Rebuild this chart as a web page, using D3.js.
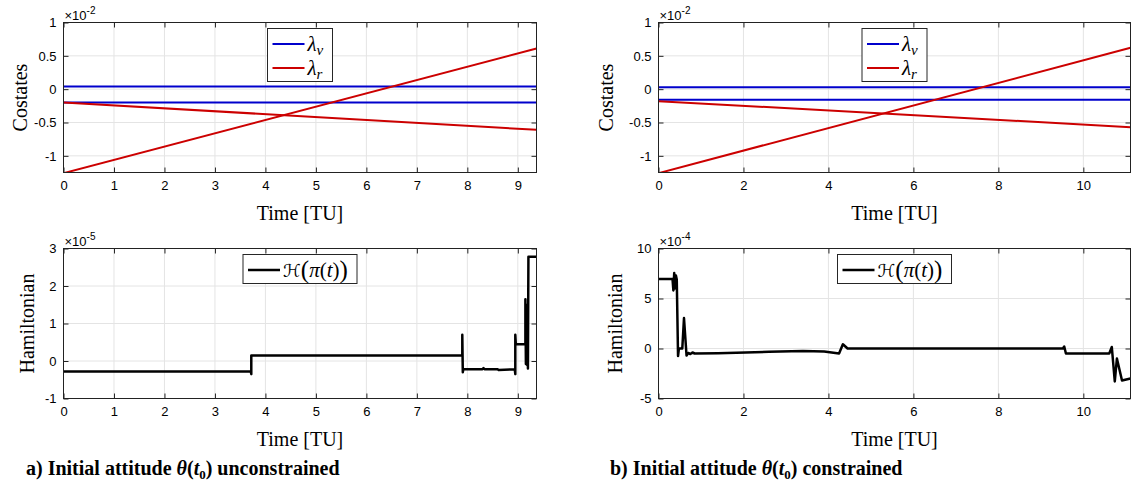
<!DOCTYPE html>
<meta charset="utf-8">
<style>
  body {
    margin: 0;
    background: #fff;
  }
  .tick text {
    font-family: "Liberation Sans", Arial, sans-serif;
    font-size: 13px;
    fill: #000;
  }
  .serif {
    font-family: "Liberation Serif", "Times New Roman", serif;
  }
</style>
<body>
  <script src="https://d3js.org/d3.v7.min.js"></script>
  <div id="chart"></div>
  <script>
    // a) attitude unconstrained: costates x1e-2, hamiltonian x1e-5
    const costTimeA = [0, 9.37];
    const lamVelA1 = [0.04, 0.04];
    const lamVelA2 = [-0.2, -0.2];
    const lamPosA1 = [-0.2, -0.61];
    const lamPosA2 = [-1.26, 0.61];

    const hamTimeA = [0, 3.71, 3.72, 3.72, 7.90, 7.90, 7.91, 7.92, 8.30, 8.32, 8.34, 8.60, 8.62, 8.94, 8.95, 8.95, 8.96,
                      9.15, 9.15, 9.16, 9.17, 9.18, 9.19, 9.20, 9.21, 9.37];
    const hamA = [-0.28, -0.28, -0.35, 0.15, 0.15, 0.70, -0.30, -0.22, -0.22, -0.19, -0.22, -0.22, -0.24, -0.22, -0.35, 0.70, 0.45,
                  0.45, 1.65, -0.08, 1.5, -0.1, 1.2, -0.2, 2.78, 2.78];

    // b) attitude constrained: costates x1e-2, hamiltonian x1e-4
    const costTimeB = [0, 11.11];
    const lamVelB1 = [0.03, 0.03];
    const lamVelB2 = [-0.16, -0.16];
    const lamPosB1 = [-0.18, -0.57];
    const lamPosB2 = [-1.26, 0.62];

    const hamTimeB = [0, 0.33, 0.35, 0.37, 0.39, 0.41, 0.43, 0.46, 0.48, 0.56, 0.60, 0.66, 0.70, 0.75, 0.80, 0.85,
                      1.4, 2.6, 3.4, 3.9, 4.25, 4.34, 4.45, 9.52, 9.55, 9.59, 10.61, 10.67, 10.74, 10.79, 10.91, 11.11];
    const hamB = [6.95, 6.95, 5.8, 7.55, 6.0, 7.3, 6.9, -0.75, 0.0, 0.0, 3.05, -0.7, -0.45, -0.55, -0.4, -0.5,
                  -0.48, -0.33, -0.24, -0.3, -0.5, 0.42, 0.0, 0.0, 0.2, -0.5, -0.5, 0.15, -3.3, -1.0, -3.2, -3.0];

    const xTicksA = [0, 1, 2, 3, 4, 5, 6, 7, 8, 9];
    const xTicksB = [0, 2, 4, 6, 8, 10];
    const costTicks = [-1, -0.5, 0, 0.5, 1];
    const hamTicksA = [-1, 0, 1, 2, 3];
    const hamTicksB = [-5, 0, 5, 10];

    const blue = "#0000cc", red = "#cc0000";

    const svg = d3.select("#chart")
      .append("svg")
      .attr("width", 1131)
      .attr("height", 481);

    let clipId = 0;

    function panel(o) {
      const w = o.w, h = o.h;
      const g = svg.append("g").attr("transform", `translate(${o.x0},${o.y0})`);
      const x = d3.scaleLinear().domain(o.xDomain).range([0, w]);
      const y = d3.scaleLinear().domain(o.yDomain).range([h, 0]);

      // grid
      g.append("g").selectAll("line").data(o.xTicks).join("line")
        .attr("x1", d => x(d)).attr("x2", d => x(d))
        .attr("y1", 0).attr("y2", h)
        .attr("stroke", "#e4e4e4");
      g.append("g").selectAll("line").data(o.yTicks).join("line")
        .attr("y1", d => y(d)).attr("y2", d => y(d))
        .attr("x1", 0).attr("x2", w)
        .attr("stroke", "#e4e4e4");

      const id = "clip" + (clipId++);
      g.append("clipPath").attr("id", id)
        .append("rect").attr("width", w).attr("height", h);

      const line = d3.line().x(d => x(d[0])).y(d => y(d[1]));
      g.append("g").attr("clip-path", `url(#${id})`)
        .selectAll("path")
        .data(o.series)
        .join("path")
        .attr("d", s => line(d3.zip(s.t, s.v)))
        .attr("fill", "none")
        .attr("stroke", s => s.color)
        .attr("stroke-width", s => s.width)
        .attr("stroke-linejoin", "round");

      // axes, ticks inside on all sides
      const fmt = d => String(d);
      g.append("g").attr("transform", `translate(0,${h})`)
        .call(d3.axisBottom(x).tickValues(o.xTicks).tickSizeInner(-5).tickSizeOuter(0).tickPadding(8).tickFormat(fmt));
      g.append("g")
        .call(d3.axisTop(x).tickValues(o.xTicks).tickSizeInner(-5).tickSizeOuter(0).tickFormat(""));
      g.append("g")
        .call(d3.axisLeft(y).tickValues(o.yTicks).tickSizeInner(-5).tickSizeOuter(0).tickPadding(7).tickFormat(fmt));
      g.append("g").attr("transform", `translate(${w},0)`)
        .call(d3.axisRight(y).tickValues(o.yTicks).tickSizeInner(-5).tickSizeOuter(0).tickFormat(""));
      g.selectAll(".domain").remove();
      g.selectAll(".tick line").attr("stroke", "#222");

      g.append("rect")
        .attr("width", w).attr("height", h)
        .attr("fill", "none").attr("stroke", "#222");

      // exponent
      const ex = g.append("text")
        .attr("x", 1).attr("y", -3)
        .style("font-family", "'Liberation Sans', Arial, sans-serif")
        .style("font-size", "13px")
        .text("\u00d710");
      ex.append("tspan").attr("dy", -6).style("font-size", "10px").text(o.exponent);

      // labels
      g.append("text").attr("class", "serif")
        .attr("x", w / 2).attr("y", h + 47)
        .attr("text-anchor", "middle")
        .style("font-size", "20px")
        .text("Time [TU]");
      g.append("text").attr("class", "serif")
        .attr("transform", `translate(${o.ylabelX},${h / 2}) rotate(-90)`)
        .attr("text-anchor", "middle")
        .style("font-size", "20px")
        .text(o.ylabel);

      // legend
      const lg = g.append("g").attr("transform", `translate(${w / 2 - o.legendW / 2},6)`);
      lg.append("rect")
        .attr("width", o.legendW).attr("height", o.legendH)
        .attr("fill", "#fff").attr("stroke", "#262626");
      o.legend.forEach((e, i) => {
        const ly = 15.5 + i * 24;
        lg.append("line")
          .attr("x1", 5).attr("x2", 37).attr("y1", ly).attr("y2", ly)
          .attr("stroke", e.color).attr("stroke-width", e.width);
        e.draw(lg.append("text").attr("class", "serif")
          .attr("x", 40).attr("y", ly + 7)
          .style("font-size", "21px"));
      });
    }

    const lambda = sub => t => {
      t.append("tspan").style("font-style", "italic").text("\u03bb");
      t.append("tspan").style("font-style", "italic").style("font-size", "15px").attr("dy", 4).text(sub);
    };
    const hamText = t => {
      t.append("tspan").style("font-family", "'DejaVu Sans', serif").style("font-size", "18px").text("\u210b");
      t.append("tspan").style("font-size", "25px").attr("dy", 1).text("(");
      t.append("tspan").style("font-style", "italic").attr("dy", -1).text("\u03c0");
      t.append("tspan").text("(");
      t.append("tspan").style("font-style", "italic").text("t");
      t.append("tspan").text(")");
      t.append("tspan").style("font-size", "25px").attr("dy", 1).text(")");
    };

    const costLegend = [
      { color: blue, width: 2, draw: lambda("v") },
      { color: red, width: 2, draw: lambda("r") }
    ];
    const hamLegend = [{ color: "#000", width: 2.5, draw: hamText }];

    const costSeries = (t, v1, v2, r1, r2) => [
      { t: t, v: v1, color: blue, width: 2 },
      { t: t, v: v2, color: blue, width: 2 },
      { t: t, v: r1, color: red, width: 2 },
      { t: t, v: r2, color: red, width: 2 }
    ];

    panel({
      x0: 63.5, y0: 22.5, w: 473, h: 150,
      xDomain: [0, 9.37], yDomain: [-1.25, 1],
      xTicks: xTicksA, yTicks: costTicks, exponent: "-2",
      ylabel: "Costates", ylabelX: -37,
      series: costSeries(costTimeA, lamVelA1, lamVelA2, lamPosA1, lamPosA2),
      legend: costLegend, legendW: 65, legendH: 53
    });
    panel({
      x0: 658.5, y0: 22.5, w: 472, h: 150,
      xDomain: [0, 11.11], yDomain: [-1.25, 1],
      xTicks: xTicksB, yTicks: costTicks, exponent: "-2",
      ylabel: "Costates", ylabelX: -46,
      series: costSeries(costTimeB, lamVelB1, lamVelB2, lamPosB1, lamPosB2),
      legend: costLegend, legendW: 65, legendH: 53
    });
    panel({
      x0: 63.5, y0: 248.5, w: 473, h: 150,
      xDomain: [0, 9.37], yDomain: [-1, 3],
      xTicks: xTicksA, yTicks: hamTicksA, exponent: "-5",
      ylabel: "Hamiltonian", ylabelX: -30,
      series: [{ t: hamTimeA, v: hamA, color: "#000", width: 2.5 }],
      legend: hamLegend, legendW: 114, legendH: 29
    });
    panel({
      x0: 658.5, y0: 248.5, w: 472, h: 150,
      xDomain: [0, 11.11], yDomain: [-5, 10],
      xTicks: xTicksB, yTicks: hamTicksB, exponent: "-4",
      ylabel: "Hamiltonian", ylabelX: -37,
      series: [{ t: hamTimeB, v: hamB, color: "#000", width: 2.5 }],
      legend: hamLegend, legendW: 114, legendH: 29
    });

    // captions
    function caption(x, label, word) {
      const t = svg.append("text").attr("class", "serif")
        .attr("x", x).attr("y", 475)
        .style("font-size", "20px").style("font-weight", "bold");
      t.append("tspan").text(label + " Initial attitude ");
      t.append("tspan").style("font-style", "italic").text("\u03b8");
      t.append("tspan").text("(");
      t.append("tspan").style("font-style", "italic").text("t");
      t.append("tspan").attr("dy", 4).style("font-size", "13px").text("0");
      t.append("tspan").attr("dy", -4).text(") " + word);
    }
    caption(26, "a)", "unconstrained");
    caption(610, "b)", "constrained");
  </script>
</body>
